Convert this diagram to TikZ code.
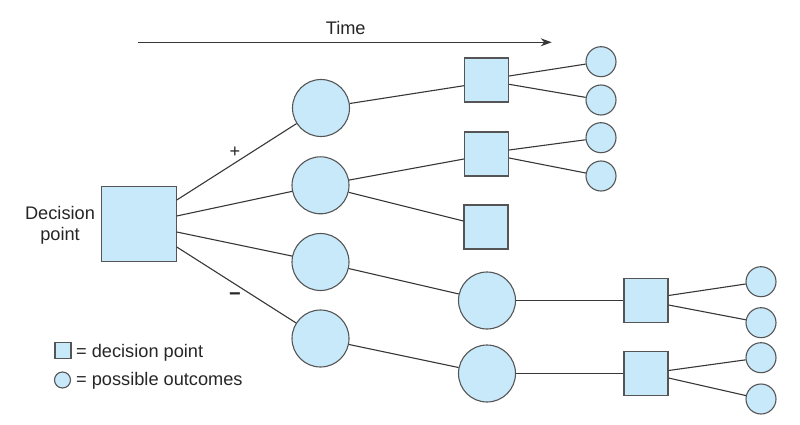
\documentclass[tikz,border=0pt]{standalone}
\usepackage{fontspec}
\setmainfont{Liberation Sans}
\usetikzlibrary{arrows.meta}
\definecolor{boxfill}{RGB}{200,233,250}
\definecolor{edgegray}{RGB}{85,85,85}
\definecolor{wiregray}{RGB}{55,55,55}
\begin{document}
\begin{tikzpicture}[x=1pt,y=-1pt,
  sq/.style={rectangle,draw=edgegray,fill=boxfill,line width=1.1pt,minimum size=#1,inner sep=0pt},
  ci/.style={circle,draw=edgegray,fill=boxfill,line width=1.1pt,minimum size=#1,inner sep=0pt},
  wire/.style={draw=wiregray,line width=1.1pt},
  lbl/.style={font=\fontsize{18.2}{20.5}\selectfont,text=black!85,inner sep=0pt}]
\useasboundingbox (0,0) rectangle (800,425);

% nodes
\node[sq=75] (dp) at (138.7,224) {};
\node[ci=57] (c1) at (321,108) {};
\node[ci=57] (c2) at (320.5,185.3) {};
\node[ci=57] (c3) at (320.5,262) {};
\node[ci=57] (c4) at (320.5,338.5) {};
\node[sq=44] (s1) at (486.5,80) {};
\node[sq=44] (s2) at (486.5,154) {};
\node[sq=44] (s3) at (486,227) {};
\node[ci=57] (c5) at (487,300.5) {};
\node[ci=57] (c6) at (487,373.5) {};
\node[ci=30] (o1) at (601,61.7) {};
\node[ci=30] (o2) at (601,100) {};
\node[ci=30] (o3) at (601,137.7) {};
\node[ci=30] (o4) at (601,176) {};
\node[sq=44] (s4) at (646,300.5) {};
\node[sq=44] (s5) at (646,373.5) {};
\node[ci=30] (o5) at (761,281.7) {};
\node[ci=30] (o6) at (761,322.7) {};
\node[ci=30] (o7) at (761,357.7) {};
\node[ci=30] (o8) at (761,399) {};

% connectors
\draw[wire] ([yshift=24pt]dp.east) -- (c1);
\draw[wire] ([yshift=8pt]dp.east) -- (c2);
\draw[wire] ([yshift=-8pt]dp.east) -- (c3);
\draw[wire] ([yshift=-23pt]dp.east) -- (c4);
\draw[wire] (c1) -- ([yshift=-5.7pt]s1.west);
\draw[wire] (c2) -- ([yshift=-5pt]s2.west);
\draw[wire] (c2) -- ([yshift=6pt]s3.west);
\draw[wire] (c3) -- (c5);
\draw[wire] (c4) -- (c6);
\draw[wire] ([yshift=4pt]s1.east) -- (o1);
\draw[wire] ([yshift=-4.3pt]s1.east) -- (o2);
\draw[wire] ([yshift=4pt]s2.east) -- (o3);
\draw[wire] ([yshift=-4pt]s2.east) -- (o4);
\draw[wire] (c5) -- (s4);
\draw[wire] (c6) -- (s5);
\draw[wire] ([yshift=5pt]s4.east) -- (o5);
\draw[wire] ([yshift=-4.5pt]s4.east) -- (o6);
\draw[wire] ([yshift=3pt]s5.east) -- (o7);
\draw[wire] ([yshift=-4.5pt]s5.east) -- (o8);

% time arrow
\coordinate (t0) at (138.3,42.3);
\coordinate (t1) at (551.7,42.3);
\draw[wire,-{Stealth[length=11pt,width=8pt]}] (t0) -- (t1);
\node[lbl] (time) at (345.7,28.3) {Time};

% signs
\node[lbl] (plus) at (235,152.7) {+};
\node[lbl,font=\fontsize{20}{22}\bfseries] (minus) at (235,296.7) {−};

% decision label
\node[lbl,align=center] (dlabel) at (60,225.5) {Decision\\point};

% legend
\node[sq=16] (lsq) at (63,350.5) {};
\node[ci=16] (lci) at (62.5,380) {};
\node[lbl,anchor=base west] (ltx1) at (76,357.3) {= decision point};
\node[lbl,anchor=base west] (ltx2) at (76,385) {= possible outcomes};
\end{tikzpicture}
\end{document}
